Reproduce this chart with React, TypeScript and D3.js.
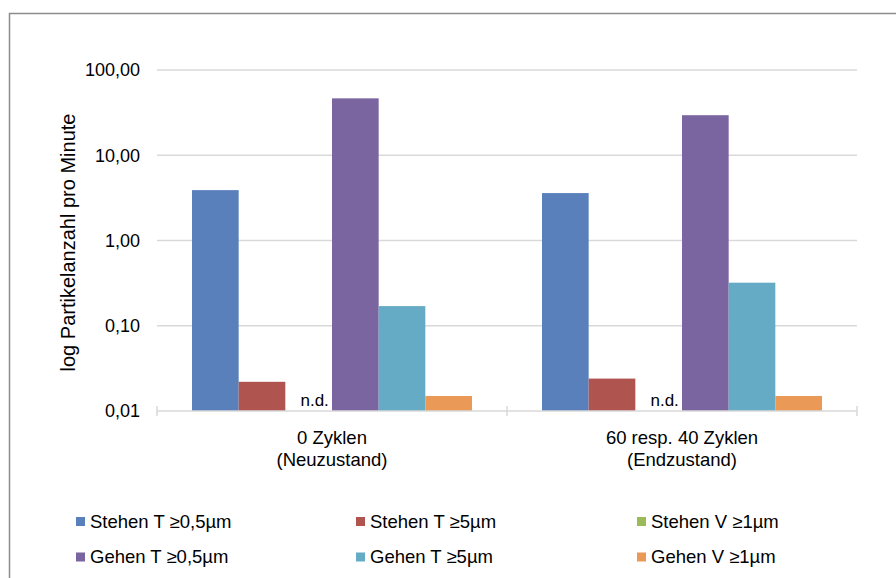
import { useEffect, useRef } from "react";
import * as d3 from "d3";

const categories = ["0 Zyklen", "60 resp. 40 Zyklen"];
const categorySub = ["(Neuzustand)", "(Endzustand)"];
const seriesNames = [
  "Stehen T ≥0,5µm",
  "Stehen T ≥5µm",
  "Stehen V ≥1µm",
  "Gehen T ≥0,5µm",
  "Gehen T ≥5µm",
  "Gehen V ≥1µm",
];
const seriesColors = ["#5A80BC", "#B0544F", "#9BBB59", "#7B65A0", "#66ABC5", "#EA9A56"];
// values per series: [0 Zyklen, 60/40 Zyklen]; null = n.d.
const stehenT05 = [3.9, 3.6];
const stehenT5 = [0.022, 0.024];
const stehenV1: (number | null)[] = [null, null];
const gehenT05 = [46.5, 29.5];
const gehenT5 = [0.17, 0.32];
const gehenV1 = [0.015, 0.015];
const seriesValues = [stehenT05, stehenT5, stehenV1, gehenT05, gehenT5, gehenV1];
const tickValues = [0.01, 0.1, 1, 10, 100];

export default function App() {
  const ref = useRef<SVGSVGElement>(null);

  useEffect(() => {
    const svg = d3.select(ref.current);
    svg.selectAll("*").remove();
    const font = "'Liberation Sans', Arial, sans-serif";

    // outer frame
    svg
      .append("rect")
      .attr("x", 9.5)
      .attr("y", 13.5)
      .attr("width", 900)
      .attr("height", 600)
      .attr("fill", "white")
      .attr("stroke", "#8c8c8c")
      .attr("stroke-width", 1.5);

    const left = 157,
      right = 857,
      top = 70,
      bottom = 411;

    const y = d3.scaleLog().domain([0.01, 100]).range([bottom, top]);
    const x0 = d3.scaleBand().domain(categories).range([left, right]);
    const x1 = d3
      .scaleBand()
      .domain(seriesNames)
      .range([0, x0.bandwidth()])
      .paddingOuter(0.75)
      .paddingInner(0);

    // gridlines
    svg
      .append("g")
      .selectAll("line")
      .data(tickValues.slice(1))
      .enter()
      .append("line")
      .attr("x1", left)
      .attr("x2", right)
      .attr("y1", (d) => y(d))
      .attr("y2", (d) => y(d))
      .attr("stroke", "#d9d9d9")
      .attr("stroke-width", 1.5);

    // y tick labels
    svg
      .append("g")
      .selectAll("text")
      .data(tickValues)
      .enter()
      .append("text")
      .attr("x", 140)
      .attr("y", (d) => y(d))
      .attr("dy", "0.35em")
      .attr("text-anchor", "end")
      .style("font-family", font)
      .style("font-size", "18px")
      .attr("fill", "#000")
      .text((d) => d3.format(".2f")(d).replace(".", ","));

    // y axis title
    svg
      .append("text")
      .attr("transform", `translate(75,${(top + bottom) / 2 + 2}) rotate(-90)`)
      .attr("text-anchor", "middle")
      .style("font-family", font)
      .style("font-size", "20px")
      .text("log Partikelanzahl pro Minute");

    // bars
    const groups = svg
      .append("g")
      .selectAll("g")
      .data(categories)
      .enter()
      .append("g")
      .attr("transform", (d) => `translate(${x0(d)},0)`);

    groups.each(function (cat, ci) {
      const g = d3.select(this);
      seriesNames.forEach((name, si) => {
        const v = seriesValues[si][ci];
        const bx = x1(name) as number;
        if (v == null) {
          g.append("text")
            .attr("x", bx + x1.bandwidth() / 2 + 6)
            .attr("y", bottom - 5)
            .attr("text-anchor", "middle")
            .style("font-family", font)
            .style("font-size", "17px")
            .text("n.d.");
          return;
        }
        g.append("rect")
          .attr("x", bx)
          .attr("y", y(v))
          .attr("width", x1.bandwidth())
          .attr("height", bottom - y(v))
          .attr("fill", seriesColors[si]);
      });
    });

    // category axis
    svg
      .append("line")
      .attr("x1", left)
      .attr("x2", right)
      .attr("y1", bottom)
      .attr("y2", bottom)
      .attr("stroke", "#d9d9d9")
      .attr("stroke-width", 1.5);
    svg
      .append("g")
      .selectAll("line")
      .data([left, x0(categories[1]) as number, right])
      .enter()
      .append("line")
      .attr("x1", (d) => d)
      .attr("x2", (d) => d)
      .attr("y1", bottom - 5)
      .attr("y2", bottom + 5)
      .attr("stroke", "#d9d9d9")
      .attr("stroke-width", 1.5);

    const catLabels = svg
      .append("g")
      .selectAll("text")
      .data(categories)
      .enter()
      .append("text")
      .attr("text-anchor", "middle")
      .style("font-family", font)
      .style("font-size", "18.5px");
    catLabels
      .append("tspan")
      .attr("x", (d) => (x0(d) as number) + x0.bandwidth() / 2)
      .attr("y", 444)
      .text((d) => d);
    catLabels
      .append("tspan")
      .attr("x", (d) => (x0(d) as number) + x0.bandwidth() / 2)
      .attr("y", 466)
      .text((d, i) => categorySub[i]);

    // legend
    const legendX = [76, 356, 637];
    const legendY = [521.5, 557];
    const items = svg
      .append("g")
      .selectAll("g")
      .data(seriesNames)
      .enter()
      .append("g")
      .attr(
        "transform",
        (d, i) => `translate(${legendX[i % 3]},${legendY[Math.floor(i / 3)]})`
      );
    items
      .append("rect")
      .attr("x", 0)
      .attr("y", -4.5)
      .attr("width", 9)
      .attr("height", 9)
      .attr("fill", (d, i) => seriesColors[i]);
    items
      .append("text")
      .attr("x", 14)
      .attr("dy", "0.35em")
      .style("font-family", font)
      .style("font-size", "18.5px")
      .text((d) => d);
  }, []);

  return (
    <svg
      ref={ref}
      width={896}
      height={578}
      style={{ position: "absolute", left: 0, top: 0, background: "white" }}
    />
  );
}
